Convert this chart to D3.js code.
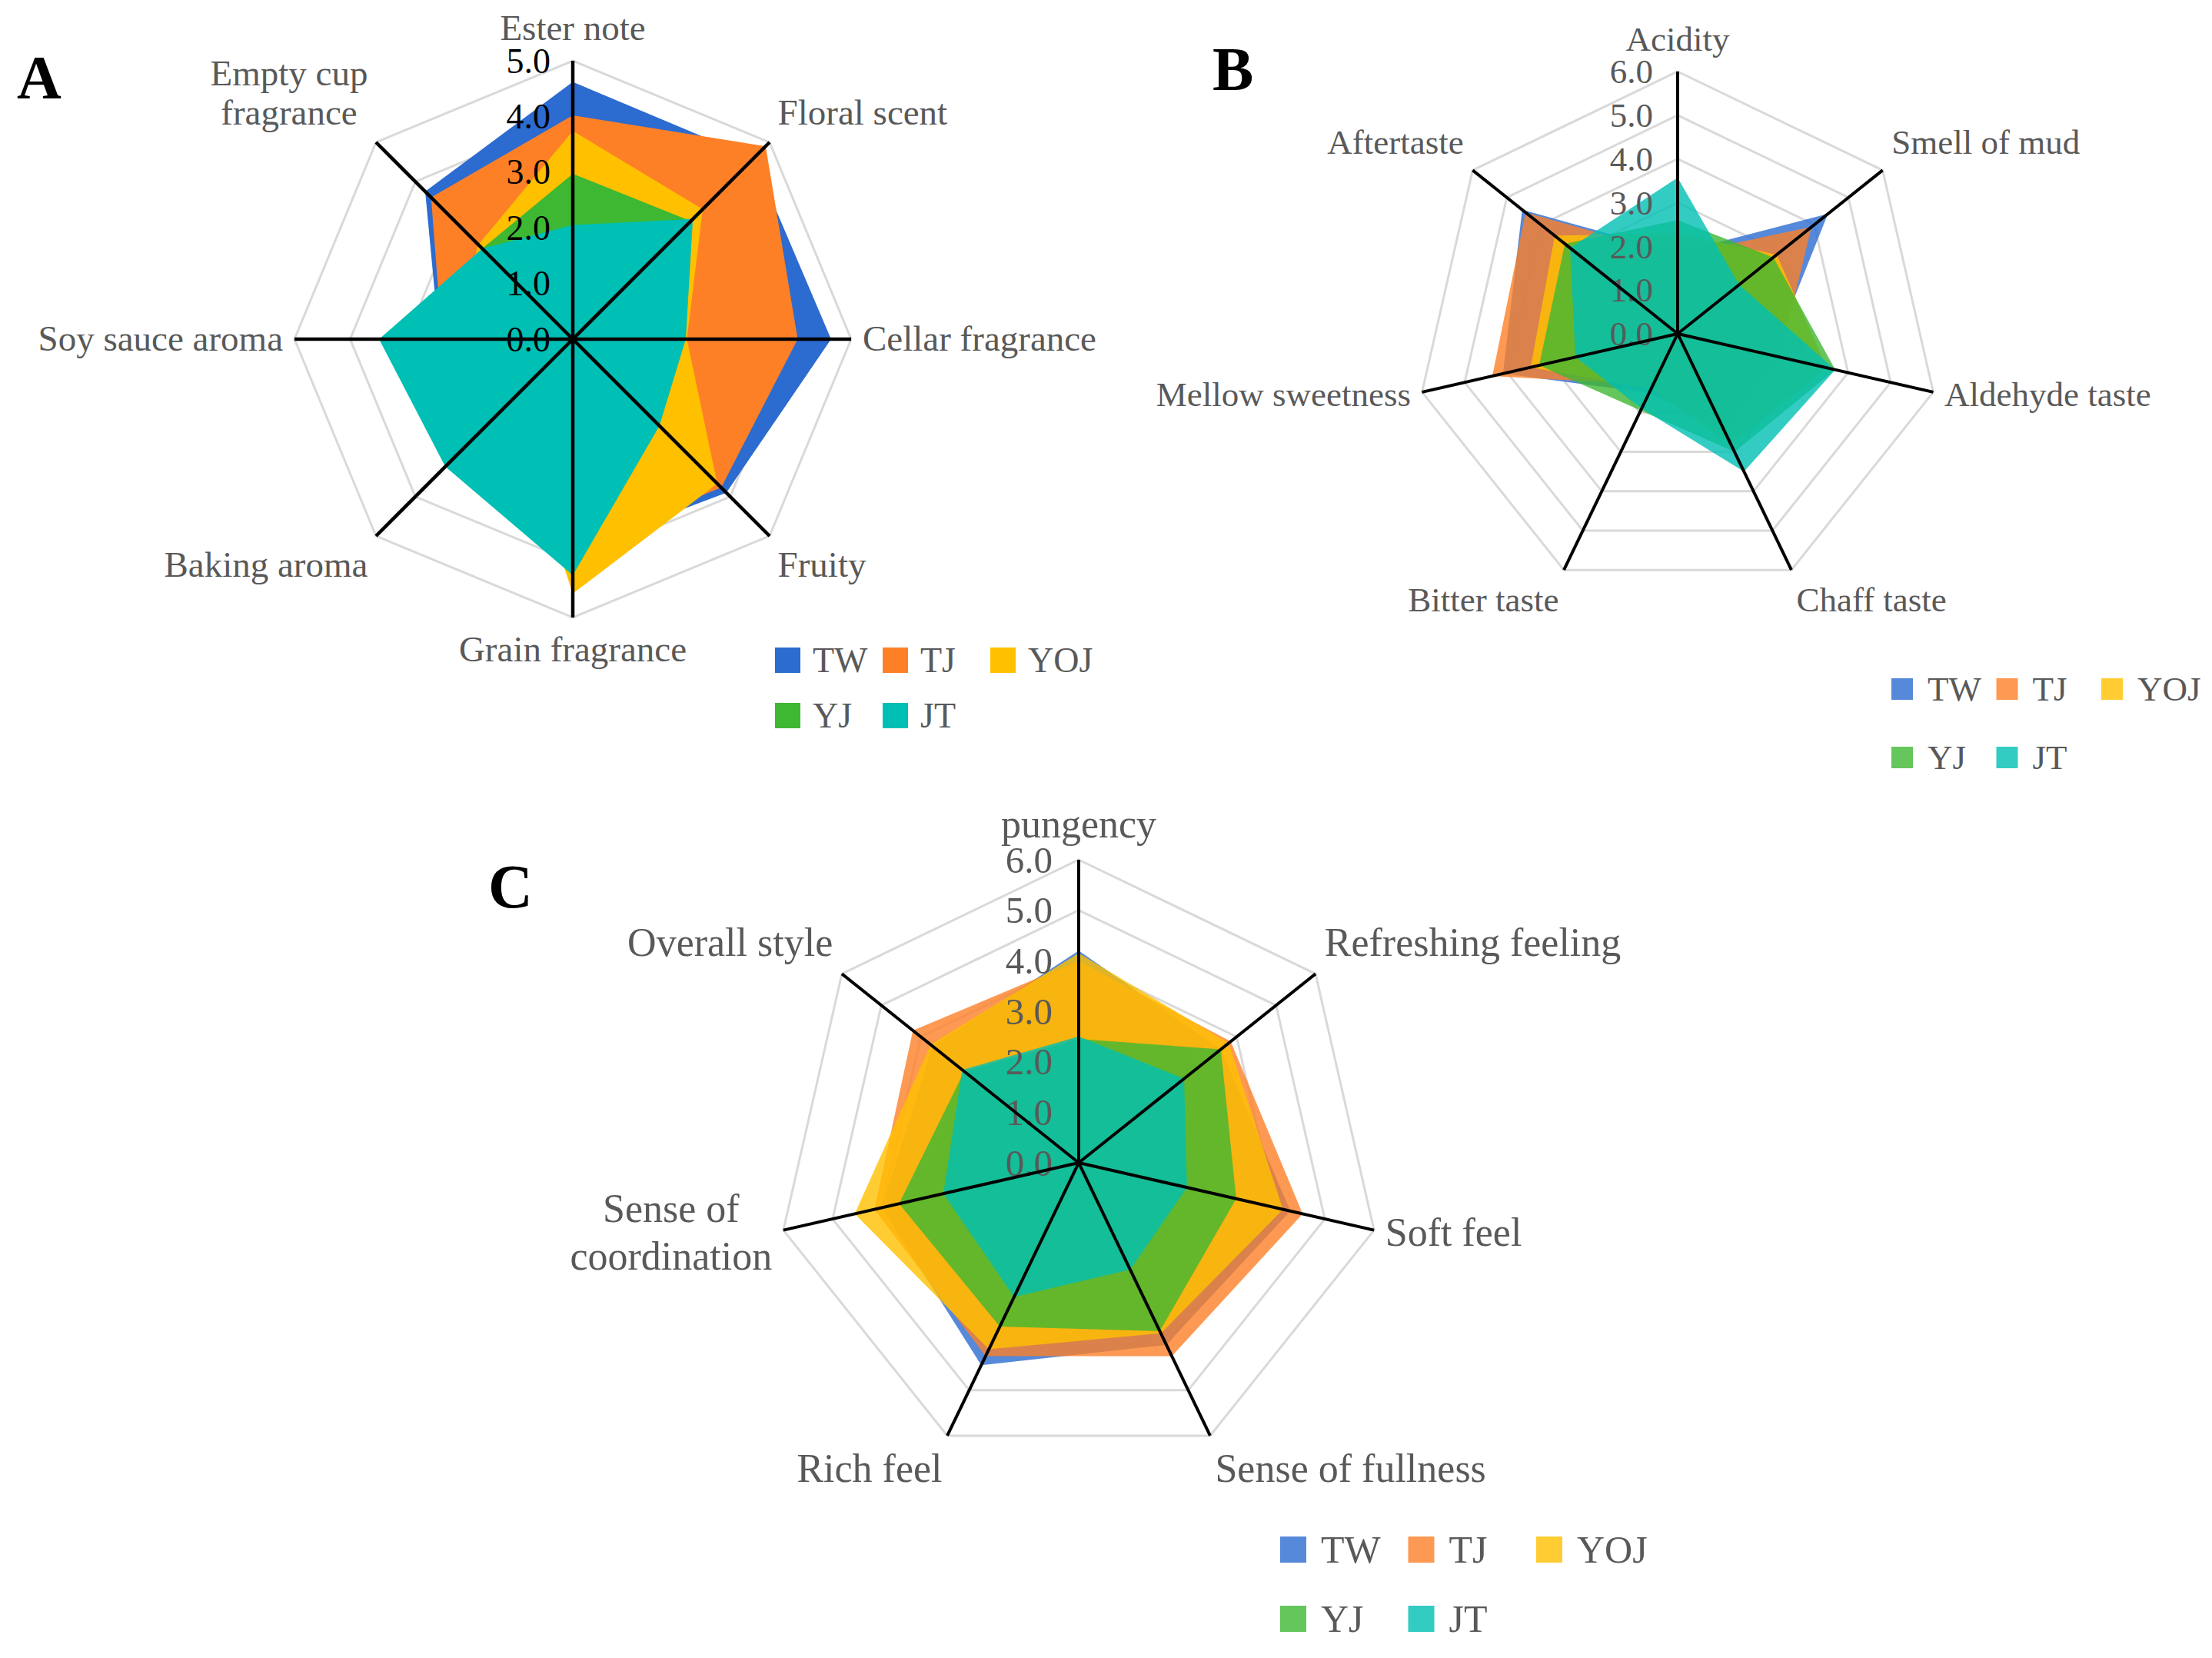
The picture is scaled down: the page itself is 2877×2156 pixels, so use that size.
<!DOCTYPE html>
<html><head><meta charset="utf-8">
<script src="https://cdn.jsdelivr.net/npm/d3@7"></script>
<style>html,body{margin:0;padding:0;background:#fff;} svg{display:block;}</style>
</head><body>
<svg id="chart" width="2877" height="2156"></svg>
<script>
// ---------------- DATA ----------------
const seriesNames = ["TW", "TJ", "YOJ", "YJ", "JT"];
const seriesColors = ["#2c6bcf", "#fd8027", "#ffc000", "#3eb832", "#00bfb4"];

// Chart A (aroma)
const categoriesA = ["Ester note", "Floral scent", "Cellar fragrance", "Fruity", "Grain fragrance", "Baking aroma", "Soy sauce aroma", "Empty cup\nfragrance"];
const ticksA = [0, 1, 2, 3, 4, 5];
const TW_A  = [4.62, 4.60, 4.64, 3.90, 3.80, 2.80, 2.40, 3.75];
const TJ_A  = [4.02, 4.90, 4.04, 3.77, 3.75, 2.80, 2.35, 3.60];
const YOJ_A = [3.74, 3.30, 2.05, 3.67, 4.57, 1.60, 2.20, 2.40];
const YJ_A  = [2.97, 3.00, 1.90, 2.00, 3.80, 3.00, 3.00, 2.30];
const JT_A  = [2.05, 3.05, 2.03, 2.20, 4.24, 3.24, 3.48, 2.30];

// Chart B (taste)
const categoriesB = ["Acidity", "Smell of mud", "Aldehyde taste", "Chaff taste", "Bitter taste", "Mellow sweetness", "Aftertaste"];
const ticksB = [0, 1, 2, 3, 4, 5, 6];
const TW_B  = [1.85, 4.40, 2.20, 2.40, 1.50, 4.10, 4.55];
const TJ_B  = [1.80, 3.92, 2.40, 2.50, 1.30, 4.35, 4.45];
const YOJ_B = [2.30, 2.90, 3.50, 2.80, 1.40, 3.45, 3.60];
const YJ_B  = [2.60, 2.80, 3.70, 3.00, 1.95, 3.25, 3.30];
const JT_B  = [3.57, 1.80, 3.70, 3.50, 1.90, 2.40, 3.15];

// Chart C (mouthfeel)
const categoriesC = ["pungency", "Refreshing feeling", "Soft feel", "Sense of fullness", "Rich feel", "Sense of\ncoordination", "Overall style"];
const ticksC = [0, 1, 2, 3, 4, 5, 6];
const TW_C  = [4.20, 3.60, 4.30, 4.00, 4.45, 4.00, 3.70];
const TJ_C  = [4.00, 3.85, 4.55, 4.25, 4.25, 4.15, 4.20];
const YOJ_C = [4.15, 3.80, 4.15, 3.75, 4.10, 4.55, 3.75];
const YJ_C  = [2.45, 3.60, 3.20, 3.70, 3.60, 3.65, 2.90];
const JT_C  = [2.50, 2.67, 2.20, 2.35, 2.95, 2.75, 2.95];

// ---------------- LAYOUT ----------------
const FONT = "'Liberation Serif', 'Times New Roman', serif";
const svg = d3.select("#chart");

const layoutA = {letter: "A", lx: 22, ly: 128, cx: 745, cy: 441, R: 362, max: 5, opacity: 1,
  lfs: 47, tfs: 46, tickColor: "#000", tickDx: 29, gap: 15, lineH: 1.09, axisW: 4.5,
  legX: 1008, legY: 842, legCol: 140, legRow: 72, sq: 33, legDx: 49, legFs: 46};
const layoutB = {letter: "B", lx: 1577, ly: 117, cx: 2182, cy: 434, R: 341, max: 6, opacity: 0.8,
  lfs: 45, tfs: 45, tickColor: "#595959", tickDx: 32, gap: 15, lineH: 1.15, axisW: 4,
  legX: 2460, legY: 882, legCol: 136.5, legRow: 89, sq: 28, legDx: 47, legFs: 45};
const layoutC = {letter: "C", lx: 635, ly: 1180, cx: 1403, cy: 1512, R: 394, max: 6, opacity: 0.8,
  lfs: 52, tfs: 49, tickColor: "#595959", tickDx: 34, gap: 15, lineH: 1.19, axisW: 4,
  legX: 1665, legY: 1998, legCol: 166.5, legRow: 90, sq: 34, legDx: 53, legFs: 50};

function radar(cfg, cats, ticks, valueArrays) {
  const series = seriesNames.map((name, k) => ({name, color: seriesColors[k], values: valueArrays[k]}));
  const n = cats.length;
  const r = d3.scaleLinear().domain([0, cfg.max]).range([0, cfg.R]);
  const ang = i => i * 2 * Math.PI / n;
  const g = svg.append("g").attr("transform", `translate(${cfg.cx},${cfg.cy})`);

  const radial = d3.lineRadial().angle((d, i) => ang(i)).radius(d => r(d)).curve(d3.curveLinearClosed);

  // grid polygons
  g.append("g").selectAll("path").data(ticks.filter(t => t > 0)).join("path")
    .attr("d", t => radial(cats.map(() => t)))
    .attr("fill", "none").attr("stroke", "#d9d9d9").attr("stroke-width", 3);

  // filled series
  g.append("g").selectAll("path").data(series).join("path")
    .attr("d", s => radial(s.values))
    .attr("fill", s => s.color).attr("fill-opacity", cfg.opacity).attr("stroke", "none");

  // tick labels
  g.append("g").selectAll("text").data(ticks).join("text")
    .attr("x", -cfg.tickDx).attr("y", t => -r(t) + cfg.tfs * 0.34)
    .attr("text-anchor", "end").attr("font-family", FONT).attr("font-size", cfg.tfs)
    .attr("fill", cfg.tickColor).text(t => t.toFixed(1));

  // axis spokes
  g.append("g").selectAll("line").data(cats).join("line")
    .attr("x1", 0).attr("y1", 0)
    .attr("x2", (d, i) => r(cfg.max) * Math.sin(ang(i)))
    .attr("y2", (d, i) => -r(cfg.max) * Math.cos(ang(i)))
    .attr("stroke", "#000").attr("stroke-width", cfg.axisW).attr("stroke-linecap", "butt");

  // category labels
  cats.forEach((c, i) => {
    const a = ang(i), s = Math.sin(a), co = Math.cos(a);
    const d = cfg.R + cfg.gap;
    const px = d * s, py = -d * co;
    const lines = c.split("\n");
    const lh = cfg.lfs * cfg.lineH;
    let y0;
    if (co > 0.35) y0 = py - cfg.lfs * 0.26 - (lines.length - 1) * lh;
    else if (co < -0.35) y0 = py + cfg.lfs * 0.9;
    else y0 = py - (lines.length - 1) * lh / 2 + cfg.lfs * 0.32;
    const t = g.append("text").attr("font-family", FONT).attr("font-size", cfg.lfs)
      .attr("fill", "#595959").attr("text-anchor", "middle");
    const spans = lines.map((ln, k) => t.append("tspan").attr("x", 0).attr("y", y0 + k * lh).text(ln));
    const widths = spans.map(sp => sp.node().getComputedTextLength());
    const bw = d3.max(widths);
    let bx;
    if (s > 0.05) bx = px + bw / 2;
    else if (s < -0.05) bx = px - bw / 2;
    else bx = px;
    spans.forEach(sp => sp.attr("x", bx));
  });

  // panel letter
  svg.append("text").attr("x", cfg.lx).attr("y", cfg.ly)
    .attr("font-family", FONT).attr("font-weight", "bold").attr("font-size", 80)
    .attr("fill", "#000").text(cfg.letter);

  // legend
  const leg = svg.append("g");
  series.forEach((s, k) => {
    const col = k < 3 ? k : k - 3, row = k < 3 ? 0 : 1;
    const x = cfg.legX + col * cfg.legCol, y = cfg.legY + row * cfg.legRow;
    leg.append("rect").attr("x", x).attr("y", y).attr("width", cfg.sq).attr("height", cfg.sq)
      .attr("fill", s.color).attr("fill-opacity", cfg.opacity);
    leg.append("text").attr("x", x + cfg.legDx).attr("y", y + cfg.sq / 2 + cfg.legFs * 0.33)
      .attr("font-family", FONT).attr("font-size", cfg.legFs).attr("fill", "#595959").text(s.name);
  });
}

radar(layoutA, categoriesA, ticksA, [TW_A, TJ_A, YOJ_A, YJ_A, JT_A]);
radar(layoutB, categoriesB, ticksB, [TW_B, TJ_B, YOJ_B, YJ_B, JT_B]);
radar(layoutC, categoriesC, ticksC, [TW_C, TJ_C, YOJ_C, YJ_C, JT_C]);
</script>
</body></html>
